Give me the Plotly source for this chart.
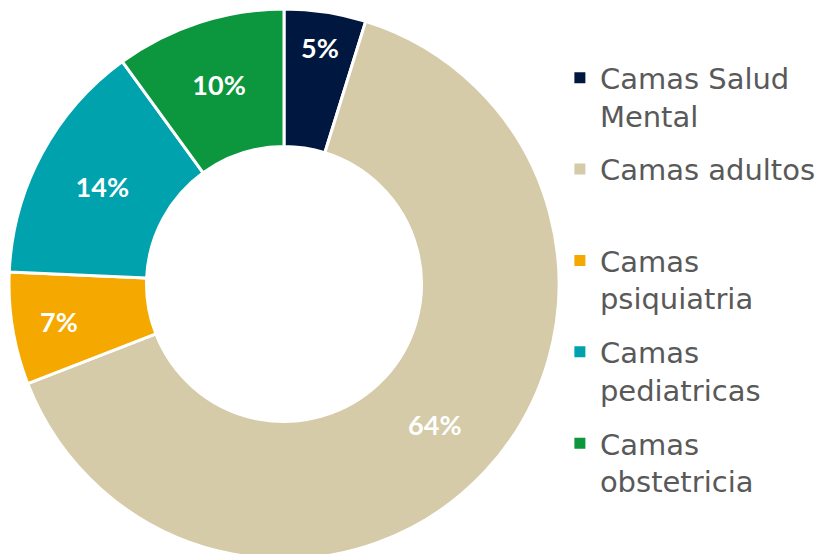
import plotly.graph_objects as go

categories = ["Camas Salud<br>Mental", "Camas adultos<br> ", "Camas<br>psiquiatria",
              "Camas<br>pediatricas", "Camas<br>obstetricia"]
values = [4.8, 64.3, 6.6, 14.3, 10.0]
colors = ["#00183F", "#D5CBA8", "#F5A800", "#00A3AD", "#0C963D"]

fig = go.Figure()
fig.add_trace(go.Pie(
    labels=categories,
    values=values,
    hole=0.5,
    sort=False,
    direction="clockwise",
    rotation=0,
    marker=dict(colors=colors, line=dict(color="white", width=3)),
    texttemplate="%{percent:.0%}",
    textposition="inside",
    insidetextorientation="horizontal",
    textfont=dict(family="Lato", size=27, color="white", weight="bold"),
    domain=dict(x=[1/840, 551/840], y=[3/554, 553/554]),
    hoverinfo="label+percent",
    showlegend=False,
))

# legend entries (one group per category so the legend gap applies)
for name, col in zip(categories, colors):
    fig.add_trace(go.Scatter(
        x=[None], y=[None], mode="markers", name=name,
        legendgroup=name,
        marker=dict(symbol="square", size=11, color=col),
        hoverinfo="skip",
    ))

fig.update_layout(
    width=840, height=554,
    margin=dict(l=0, r=0, t=0, b=0),
    paper_bgcolor="white",
    plot_bgcolor="white",
    xaxis=dict(visible=False),
    yaxis=dict(visible=False),
    showlegend=True,
    legend=dict(
        x=0.657, y=0.92, xanchor="left", yanchor="top",
        font=dict(family="DejaVu Sans", size=29, color="#595959"),
        valign="top",
        itemsizing="trace",
        tracegroupgap=13,
        bgcolor="rgba(0,0,0,0)",
    ),
)

fig.write_html("out.html")
